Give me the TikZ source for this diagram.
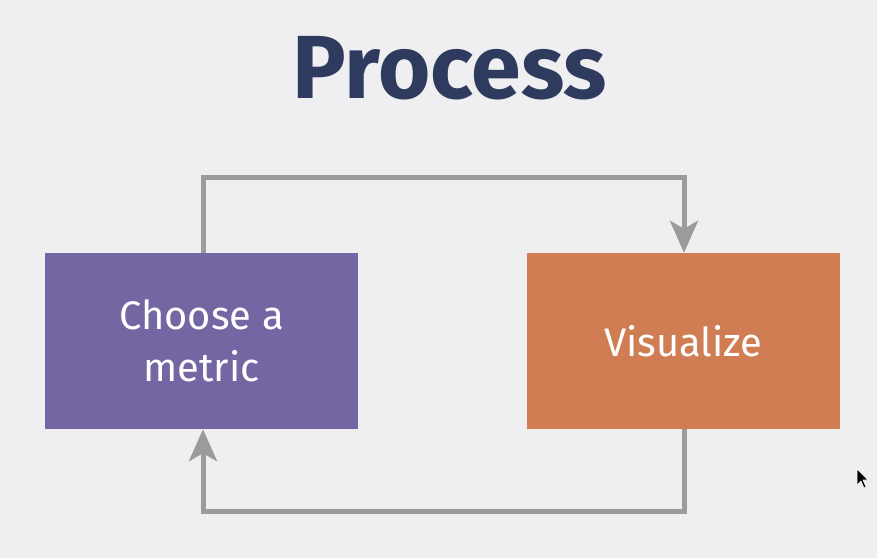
\documentclass[tikz,border=0pt]{standalone}
\usepackage{fontspec}
\setmainfont{Fira Sans}
\usetikzlibrary{arrows.meta}
\definecolor{bg}{HTML}{EFEEF1}
\definecolor{titlecol}{HTML}{2F3B5E}
\definecolor{purplebox}{HTML}{7366A3}
\definecolor{orangebox}{HTML}{D07D54}
\definecolor{linkgray}{HTML}{9B9B9B}
\begin{document}
\begin{tikzpicture}[x=1bp,y=-1bp,
  box/.style={draw=none,minimum width=313bp,minimum height=176bp,inner sep=0pt,
    text=white,align=center,font=\fontsize{40}{52}\selectfont},
  link/.style={draw=linkgray,line width=5bp,line join=miter,
    -{Stealth[length=32bp,width=28bp,inset=8bp]}}]
\fill[bg] (0,0) rectangle (877,558);
\useasboundingbox (0,0) rectangle (877,558);
\node[font=\fontsize{90}{90}\selectfont\bfseries,text=titlecol] (title) at (450,68) {Process};
\node[box,fill=purplebox] (metric) at (201.5,341) {Choose a\\metric};
\node[box,fill=orangebox] (vis) at (683.5,341) {Visualize};
\coordinate (tl) at (203,178);
\coordinate (tr) at (684,178);
\coordinate (br) at (684,511);
\coordinate (bl) at (203,511);
\draw[link] (metric.north -| tl) -- (tl) -- (tr) -- (vis.north -| tr);
\draw[link] (vis.south -| br) -- (br) -- (bl) -- (metric.south -| bl);
\fill[black,draw=white,line width=0.6bp] (857,469) -- (857,485) -- (861,481) -- (864,488) -- (866,487) -- (863,480) -- (868,480) -- cycle;
\end{tikzpicture}
\end{document}
